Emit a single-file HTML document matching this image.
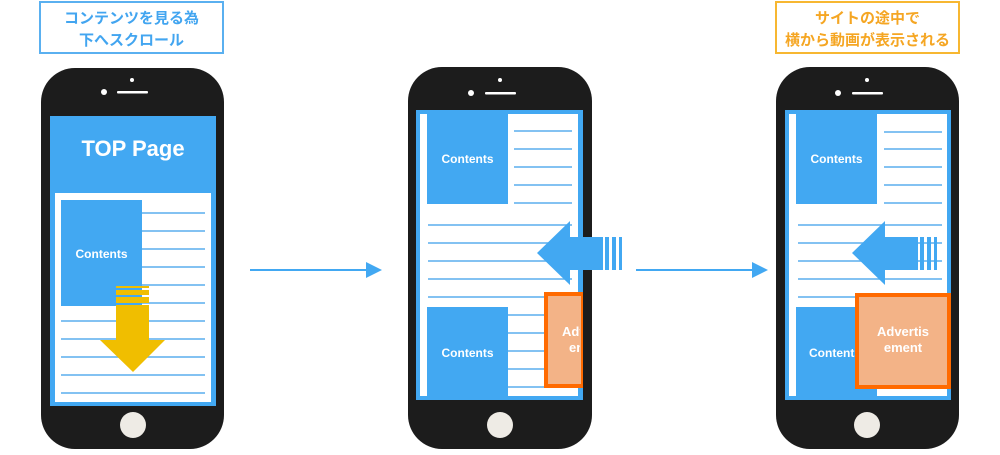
<!DOCTYPE html>
<html><head><meta charset="utf-8"><style>
body{margin:0;background:#fff;width:1000px;height:450px;overflow:hidden}
svg text{font-family:"Liberation Sans","Noto Sans CJK JP",sans-serif;font-weight:bold}
</style></head><body>
<svg width="1000" height="450" viewBox="0 0 1000 450" xmlns="http://www.w3.org/2000/svg">
<defs><clipPath id="c2"><rect x="546" y="294" width="34" height="92"/></clipPath></defs>
<!-- labels -->
<rect x="40" y="2" width="183" height="51" fill="#fff" stroke="#5ab0f0" stroke-width="2"/>
<text x="131.5" y="23" font-size="15" fill="#42a5f0" text-anchor="middle">コンテンツを見る為</text>
<text x="131.5" y="45" font-size="15" fill="#42a5f0" text-anchor="middle">下へスクロール</text>
<rect x="776" y="2" width="183" height="51" fill="#fff" stroke="#f7b731" stroke-width="2"/>
<text x="867.5" y="23" font-size="15" fill="#f5a623" text-anchor="middle">サイトの途中で</text>
<text x="867.5" y="45" font-size="15" fill="#f5a623" text-anchor="middle">横から動画が表示される</text>

<!-- Phone 1 -->
<rect x="41" y="68" width="183" height="381" rx="34" fill="#1c1c1c"/>
<circle cx="132" cy="80" r="2" fill="#fff"/><circle cx="104" cy="92" r="3" fill="#fff"/>
<rect x="117" y="91" width="31" height="2.5" rx="1" fill="#fff"/>
<circle cx="133" cy="425" r="13" fill="#eeebe5"/>
<rect x="50" y="116" width="166" height="290" fill="#42a8f2"/>
<text x="133" y="156" font-size="22" fill="#fff" text-anchor="middle">TOP Page</text>
<rect x="55" y="193" width="156" height="209" fill="#fff"/>
<rect x="61" y="200" width="81" height="106" fill="#42a8f2"/>
<text x="101.5" y="258" font-size="12" fill="#fff" text-anchor="middle">Contents</text>
<g stroke="#5aaeee" stroke-width="1.5">
<line x1="142" y1="213" x2="205" y2="213"/><line x1="142" y1="231" x2="205" y2="231"/><line x1="142" y1="249" x2="205" y2="249"/><line x1="142" y1="267" x2="205" y2="267"/><line x1="142" y1="285" x2="205" y2="285"/><line x1="142" y1="303" x2="205" y2="303"/>
<line x1="61" y1="321" x2="205" y2="321"/><line x1="61" y1="339" x2="205" y2="339"/><line x1="61" y1="357" x2="205" y2="357"/><line x1="61" y1="375" x2="205" y2="375"/><line x1="61" y1="393" x2="205" y2="393"/>
</g>
<g fill="#f0be00">
<rect x="116" y="286" width="33" height="2"/><rect x="116" y="290" width="33" height="5"/><rect x="116" y="297" width="33" height="6"/>
<rect x="116" y="305" width="33" height="36"/>
<polygon points="100,340 165,340 133,372"/>
</g>

<!-- arrows between -->
<line x1="250" y1="270" x2="368" y2="270" stroke="#42a8f2" stroke-width="2"/>
<polygon points="366,262 382,270 366,278" fill="#42a8f2"/>
<line x1="636" y1="270" x2="754" y2="270" stroke="#42a8f2" stroke-width="2"/>
<polygon points="752,262 768,270 752,278" fill="#42a8f2"/>

<!-- Phone 2 -->
<rect x="408" y="67" width="184" height="382" rx="34" fill="#1c1c1c"/>
<circle cx="500" cy="80" r="2" fill="#fff"/><circle cx="471" cy="93" r="3" fill="#fff"/>
<rect x="485" y="92" width="31" height="2.5" rx="1" fill="#fff"/>
<circle cx="500" cy="425" r="13" fill="#eeebe5"/>
<rect x="416" y="110" width="167" height="290" fill="#42a8f2"/>
<rect x="420" y="114" width="158" height="282" fill="#fff"/>
<rect x="427" y="114" width="81" height="90" fill="#42a8f2"/>
<text x="467.5" y="163" font-size="12" fill="#fff" text-anchor="middle">Contents</text>
<rect x="427" y="307" width="81" height="89" fill="#42a8f2"/>
<text x="467.5" y="357" font-size="12" fill="#fff" text-anchor="middle">Contents</text>
<g stroke="#5aaeee" stroke-width="1.5">
<line x1="514" y1="131" x2="572" y2="131"/><line x1="514" y1="149" x2="572" y2="149"/><line x1="514" y1="167" x2="572" y2="167"/><line x1="514" y1="185" x2="572" y2="185"/><line x1="514" y1="203" x2="572" y2="203"/>
<line x1="428" y1="225" x2="572" y2="225"/><line x1="428" y1="243" x2="572" y2="243"/><line x1="428" y1="261" x2="572" y2="261"/><line x1="428" y1="279" x2="572" y2="279"/><line x1="428" y1="297" x2="572" y2="297"/>
<line x1="508" y1="315" x2="572" y2="315"/><line x1="508" y1="333" x2="572" y2="333"/><line x1="508" y1="351" x2="572" y2="351"/><line x1="508" y1="369" x2="572" y2="369"/><line x1="508" y1="387" x2="572" y2="387"/>
</g>
<rect x="546" y="294" width="37" height="92" fill="#f3b387" stroke="#ff6a00" stroke-width="4"/>
<g clip-path="url(#c2)">
<text x="562" y="336" font-size="13" fill="#fff">Adv</text>
<text x="569" y="352" font-size="13" fill="#fff">em</text>
</g>
<rect x="583" y="290" width="9" height="100" fill="#1c1c1c"/>
<rect x="580" y="110" width="3" height="180" fill="#42a8f2"/>
<g fill="#42a8f2">
<polygon points="537,253 570,221 570,285"/>
<rect x="569" y="237" width="34" height="33"/>
<rect x="605" y="237" width="4" height="33"/><rect x="612" y="237" width="4" height="33"/><rect x="619" y="237" width="3" height="33"/>
</g>

<!-- Phone 3 -->
<rect x="776" y="67" width="183" height="382" rx="34" fill="#1c1c1c"/>
<circle cx="867" cy="80" r="2" fill="#fff"/><circle cx="838" cy="93" r="3" fill="#fff"/>
<rect x="852" y="92" width="31" height="2.5" rx="1" fill="#fff"/>
<circle cx="867" cy="425" r="13" fill="#eeebe5"/>
<rect x="785" y="110" width="166" height="290" fill="#42a8f2"/>
<rect x="789" y="114" width="158" height="282" fill="#fff"/>
<rect x="796" y="114" width="81" height="90" fill="#42a8f2"/>
<text x="836.5" y="163" font-size="12" fill="#fff" text-anchor="middle">Contents</text>
<rect x="796" y="307" width="81" height="89" fill="#42a8f2"/>
<text x="809" y="357" font-size="12" fill="#fff">Contents</text>
<g stroke="#5aaeee" stroke-width="1.5">
<line x1="884" y1="132" x2="942" y2="132"/><line x1="884" y1="149" x2="942" y2="149"/><line x1="884" y1="167" x2="942" y2="167"/><line x1="884" y1="185" x2="942" y2="185"/><line x1="884" y1="203" x2="942" y2="203"/>
<line x1="798" y1="225" x2="942" y2="225"/><line x1="798" y1="243" x2="942" y2="243"/><line x1="798" y1="261" x2="942" y2="261"/><line x1="798" y1="279" x2="942" y2="279"/><line x1="798" y1="297" x2="942" y2="297"/>
<line x1="877" y1="387" x2="942" y2="387"/>
</g>
<g fill="#42a8f2">
<polygon points="852,253 885,221 885,285"/>
<rect x="884" y="237" width="34" height="33"/>
<rect x="920" y="237" width="4" height="33"/><rect x="927" y="237" width="4" height="33"/><rect x="934" y="237" width="3" height="33"/>
</g>
<rect x="857" y="295" width="92" height="92" fill="#f3b387" stroke="#ff6a00" stroke-width="4"/>
<text x="903" y="336" font-size="13" fill="#fff" text-anchor="middle">Advertis</text>
<text x="903" y="352" font-size="13" fill="#fff" text-anchor="middle">ement</text>
</svg>
</body></html>
